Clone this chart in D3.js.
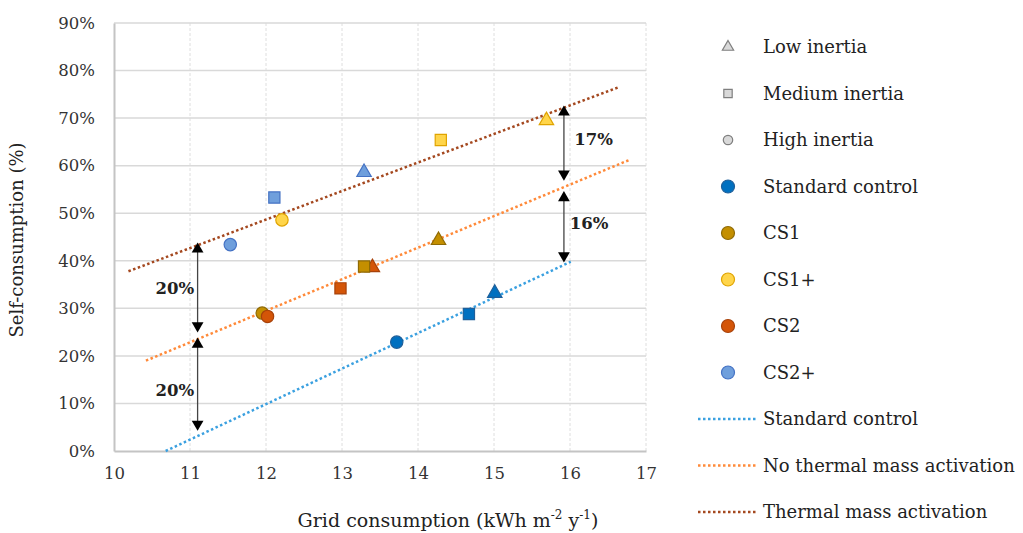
<!DOCTYPE html>
<html>
<head>
<meta charset="utf-8">
<script src="https://cdn.jsdelivr.net/npm/d3@7"></script>
<style>
  body { margin: 0; background: #fff; }
  svg { display: block; font-family: "DejaVu Serif", serif; }
</style>
</head>
<body>
<svg id="chart" width="1023" height="533"></svg>
<script>
// data
const groups = ["Standard control", "CS1", "CS1+", "CS2", "CS2+"];
const inertia = ["Low inertia", "Medium inertia", "High inertia"];
const gridLow = [15.01, 14.27, 15.69, 13.40, 13.29];
const gridMed = [14.67, 13.29, 14.30, 12.98, 12.11];
const gridHigh = [13.72, 11.95, 12.21, 12.02, 11.53];
const selfLow = [33.2, 44.3, 69.5, 38.6, 58.6];
const selfMed = [28.8, 38.8, 65.4, 34.2, 53.3];
const selfHigh = [22.9, 29.0, 48.6, 28.3, 43.4];

const trendNames = ["Standard control", "No thermal mass activation", "Thermal mass activation"];
const trendX0 = [10.68, 10.42, 10.19];
const trendX1 = [16.01, 16.78, 16.64];
const trendY0 = [0, 19.0, 37.8];
const trendY1 = [39.8, 61.2, 76.5];

const arrowX = [11.1, 11.1, 15.92, 15.92];
const arrowTop = [43.7, 23.7, 72.5, 54.5];
const arrowBottom = [25.1, 4.4, 57.0, 39.8];
const gapLabels = ["20%", "20%", "17%", "16%"];
const gapLabelX = [10.8, 10.8, 16.31, 16.25];
const gapLabelY = [34.3, 12.8, 65.5, 48.0];

const xTicks = [10, 11, 12, 13, 14, 15, 16, 17];
const yTicks = [0, 10, 20, 30, 40, 50, 60, 70, 80, 90];

const fills = ["#0070c0", "#c48f00", "#ffd54a", "#d45508", "#6f9fdc"];
const strokes = ["#1f5f9a", "#8f6a05", "#e0a400", "#a8420a", "#4472c4"];
const trendColors = ["#3aa0e0", "#ff8a3a", "#a4481f"];
const symbols = [d3.symbolTriangle, d3.symbolSquare, d3.symbolCircle];

const svg = d3.select("#chart");
const x = d3.scaleLinear().domain([10, 17]).range([114, 646]);
const y = d3.scaleLinear().domain([0, 90]).range([451, 23]);

// grid
svg.append("g").selectAll("line").data(xTicks.slice(1)).join("line")
  .attr("x1", d => x(d)).attr("x2", d => x(d))
  .attr("y1", y(90)).attr("y2", y(0))
  .attr("stroke", "#dedede").attr("stroke-width", 1).attr("stroke-dasharray", "3,2");
svg.append("g").selectAll("line").data(yTicks.slice(1)).join("line")
  .attr("x1", x(10)).attr("x2", x(17))
  .attr("y1", d => y(d)).attr("y2", d => y(d))
  .attr("stroke", "#d9d9d9").attr("stroke-width", 1.5);

// axes
const xAxis = svg.append("g").attr("transform", `translate(0,${y(0)})`)
  .call(d3.axisBottom(x).tickValues(xTicks).tickSize(0).tickPadding(16).tickFormat(d3.format("d")));
const yAxis = svg.append("g").attr("transform", `translate(${x(10)},0)`)
  .call(d3.axisLeft(y).tickValues(yTicks).tickSize(0).tickPadding(19).tickFormat(d => d + "%"));
[xAxis, yAxis].forEach(a => {
  a.select(".domain").attr("stroke", "#c4c4c4").attr("stroke-width", 2);
  a.selectAll("text").attr("font-family", "DejaVu Serif").attr("font-size", 16.5).attr("fill", "#333");
});

svg.append("text")
  .attr("transform", `translate(23,${(y(0) + y(90)) / 2 + 3}) rotate(-90)`)
  .attr("text-anchor", "middle").attr("font-size", 18).attr("fill", "#222")
  .text("Self-consumption (%)");

const xt = svg.append("text").attr("x", 448).attr("y", 527)
  .attr("text-anchor", "middle").attr("font-size", 19).attr("fill", "#222");
xt.append("tspan").text("Grid consumption (kWh m");
xt.append("tspan").attr("font-size", 12).attr("dy", -8).text("-2");
xt.append("tspan").attr("dy", 8).text(" y");
xt.append("tspan").attr("font-size", 12).attr("dy", -8).text("-1");
xt.append("tspan").attr("dy", 8).text(")");

// trendlines
trendNames.forEach((n, i) => {
  svg.append("line")
    .attr("x1", x(trendX0[i])).attr("y1", y(trendY0[i]))
    .attr("x2", x(trendX1[i])).attr("y2", y(trendY1[i]))
    .attr("stroke", trendColors[i]).attr("stroke-width", 2.5)
    .attr("stroke-dasharray", "2.5,2.5");
});

// arrows
const head = d3.symbol().type(d3.symbolTriangle).size(60);
arrowX.forEach((ax, i) => {
  const g = svg.append("g");
  g.append("line")
    .attr("x1", x(ax)).attr("x2", x(ax))
    .attr("y1", y(arrowTop[i]) + 6).attr("y2", y(arrowBottom[i]) - 6)
    .attr("stroke", "#444").attr("stroke-width", 1.3);
  g.append("path").attr("d", head)
    .attr("transform", `translate(${x(ax)},${y(arrowTop[i]) + 6})`)
    .attr("fill", "#000");
  g.append("path").attr("d", head)
    .attr("transform", `translate(${x(ax)},${y(arrowBottom[i]) - 6}) rotate(180)`)
    .attr("fill", "#000");
  svg.append("text")
    .attr("x", x(gapLabelX[i])).attr("y", y(gapLabelY[i]))
    .attr("dy", "0.35em").attr("text-anchor", "middle")
    .attr("font-size", 16.5).attr("font-weight", "bold").attr("fill", "#222")
    .text(gapLabels[i]);
});

// markers
const series = [[gridLow, selfLow], [gridMed, selfMed], [gridHigh, selfHigh]];
const sizes = [90, 125, 120];
series.forEach((s, k) => {
  groups.forEach((gname, i) => {
    svg.append("path")
      .attr("d", d3.symbol().type(symbols[k]).size(sizes[k]))
      .attr("transform", `translate(${x(s[0][i])},${y(s[1][i])})`)
      .attr("fill", fills[i]).attr("stroke", strokes[i]).attr("stroke-width", 1.2);
  });
});

// legend
const lg = svg.append("g");
const rowY = i => 47 + i * 46.5;
inertia.forEach((n, i) => {
  lg.append("path")
    .attr("d", d3.symbol().type(symbols[i]).size(i === 0 ? 55 : 70))
    .attr("transform", `translate(728,${rowY(i)})`)
    .attr("fill", "#d9d9d9").attr("stroke", "#7f7f7f").attr("stroke-width", 1.2);
  lg.append("text").attr("x", 763).attr("y", rowY(i)).attr("dy", "0.35em")
    .attr("font-size", 18).attr("fill", "#222").text(n);
});
groups.forEach((n, i) => {
  const r = rowY(i + 3);
  lg.append("circle").attr("cx", 728).attr("cy", r).attr("r", 6.5)
    .attr("fill", fills[i]).attr("stroke", strokes[i]).attr("stroke-width", 1.2);
  lg.append("text").attr("x", 763).attr("y", r).attr("dy", "0.35em")
    .attr("font-size", 18).attr("fill", "#222").text(n);
});
trendNames.forEach((n, i) => {
  const r = rowY(i + 8);
  lg.append("line").attr("x1", 698).attr("x2", 757).attr("y1", r).attr("y2", r)
    .attr("stroke", trendColors[i]).attr("stroke-width", 2.5).attr("stroke-dasharray", "2.5,2.5");
  lg.append("text").attr("x", 763).attr("y", r).attr("dy", "0.35em")
    .attr("font-size", 18).attr("fill", "#222").text(n);
});
</script>
</body>
</html>
